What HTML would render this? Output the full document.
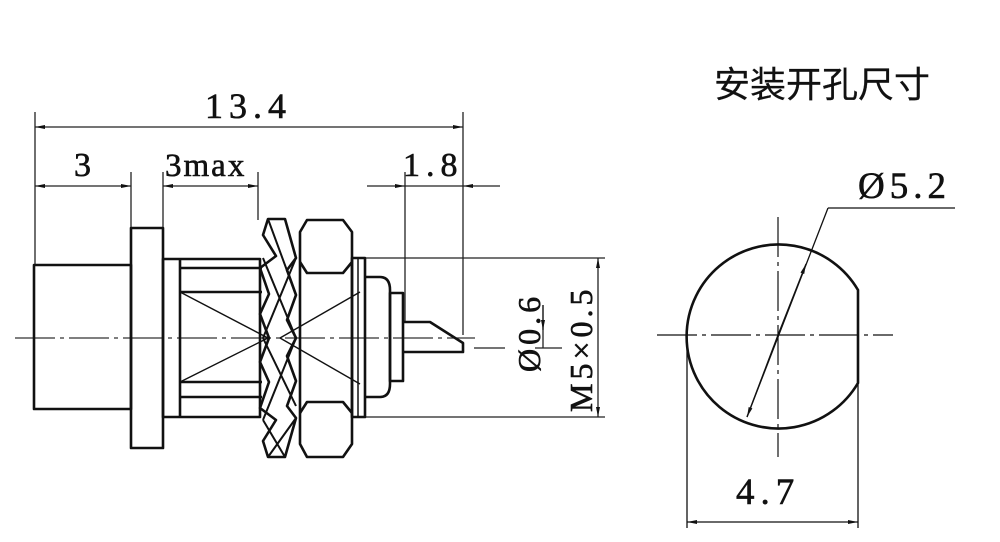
<!DOCTYPE html>
<html><head><meta charset="utf-8"><style>
html,body{margin:0;padding:0;background:#fff;}
svg{display:block;}
text{font-family:"Liberation Serif","Noto Serif CJK SC",serif;fill:#111;stroke:#111;stroke-width:0.6;}
</style></head><body>
<svg width="1000" height="542" viewBox="0 0 1000 542" xmlns="http://www.w3.org/2000/svg">
<defs>
<marker id="a" viewBox="0 0 10 6" refX="10" refY="3" markerWidth="14" markerHeight="6" orient="auto-start-reverse" markerUnits="userSpaceOnUse"><path d="M0,1 L10,3 L0,5z" fill="#111"/></marker>
</defs>
<text x="714" y="97" font-size="36" style="font-family:'Liberation Sans','Noto Sans CJK SC',sans-serif;stroke-width:0.2">安装开孔尺寸</text>

<g stroke="#222" stroke-width="1.3" fill="none">
<line x1="35" y1="112" x2="35" y2="265"/>
<line x1="463" y1="112" x2="463" y2="335"/>
<line x1="35" y1="127" x2="463" y2="127" marker-start="url(#a)" marker-end="url(#a)"/>
<line x1="131" y1="172" x2="131" y2="228"/>
<line x1="163" y1="172" x2="163" y2="259"/>
<line x1="258" y1="172" x2="258" y2="220"/>
<line x1="405" y1="172" x2="405" y2="322"/>
<line x1="35" y1="186" x2="131" y2="186" marker-start="url(#a)" marker-end="url(#a)"/>
<line x1="163" y1="186" x2="258" y2="186" marker-start="url(#a)" marker-end="url(#a)"/>
<line x1="367" y1="186" x2="405" y2="186" marker-end="url(#a)"/>
<line x1="500" y1="186" x2="463" y2="186" marker-end="url(#a)"/>
<line x1="405" y1="186" x2="463" y2="186"/>
<line x1="360" y1="258" x2="605" y2="258"/>
<line x1="360" y1="417" x2="605" y2="417"/>
<line x1="598" y1="258" x2="598" y2="417" marker-start="url(#a)" marker-end="url(#a)"/>
<line x1="543" y1="305" x2="543" y2="348"/>
<line x1="543" y1="305" x2="543" y2="330" marker-end="url(#a)"/>
<line x1="474" y1="348" x2="505" y2="348"/>
<line x1="535" y1="348" x2="562" y2="348"/>
</g>
<text x="205" y="118" font-size="36" letter-spacing="6">13.4</text>
<text x="74" y="176" font-size="34">3</text>
<text x="165" y="176" font-size="33" letter-spacing="2">3max</text>
<text x="403" y="176" font-size="34" letter-spacing="6">1.8</text>
<text transform="translate(540,372) rotate(-90)" font-size="32" letter-spacing="4">Ø0.6</text>
<text transform="translate(592,412) rotate(-90)" font-size="32" letter-spacing="4">M5×0.5</text>

<line x1="15" y1="338" x2="475" y2="338" stroke="#333" stroke-width="1.2" stroke-dasharray="40,5,4,5"/>

<g stroke="#111" stroke-width="2.6" fill="none" stroke-linejoin="round">
<rect x="34" y="265" width="97" height="144"/>
<rect x="131" y="228" width="32" height="220"/>
<rect x="163" y="259" width="97" height="158"/>
<line x1="180" y1="259" x2="180" y2="417"/>
<line x1="180" y1="268" x2="262" y2="268"/>
<line x1="180" y1="292" x2="262" y2="292"/>
<line x1="180" y1="382" x2="262" y2="382"/>
<line x1="180" y1="397" x2="262" y2="397"/>
<path d="M268,219 L285,219 L296,258 L287,270 L296,295 L287,320 L296,338 L287,356 L296,381 L287,406 L296,418 L285,457 L268,457 L263,441 L276,420 L260,408 L269,382 L260,362 L269,338 L260,314 L269,294 L260,268 L276,256 L263,235 Z"/>
<path d="M268,219 L296,295 M263,258 L296,338 M263,338 L296,406 M263,420 L285,457 M296,258 L263,338 M296,338 L263,420 M296,418 L268,457" stroke-width="2"/>
<path d="M307,220 L343,220 L352,232 L352,444 L343,457 L307,457 L300,444 L300,232 Z"/>
<path d="M300,262 L307,273 L343,273 L352,262 M300,413 L307,402 L343,402 L352,413"/>
<rect x="352" y="258" width="13" height="159"/>
<line x1="358" y1="258" x2="358" y2="417" stroke-width="1.5"/>
<path d="M365,277 L380,277 Q390,277 390,290 L390,384 Q390,397 380,397 L365,397"/>
<rect x="390" y="293" width="13" height="88"/>
<path d="M403,322 L430,322 L463,343 L463,352 L403,352"/>
</g>
<g stroke="#111" stroke-width="1.4">
<line x1="180" y1="292" x2="268" y2="338"/>
<line x1="180" y1="382" x2="268" y2="338"/>
<line x1="360" y1="292" x2="280" y2="338"/>
<line x1="360" y1="384" x2="280" y2="338"/>
</g>

<g stroke="#111" fill="none">
<path d="M858,290 A92,92 0 1 0 858,383 Z" stroke-width="2.6"/>
<line x1="657" y1="335" x2="893" y2="335" stroke-width="1.2" stroke-dasharray="40,5,4,5"/>
<line x1="778" y1="217" x2="778" y2="457" stroke-width="1.2" stroke-dasharray="40,5,4,5"/>
<line x1="747" y1="417" x2="828" y2="208" stroke-width="1.3"/>
<line x1="778" y1="335" x2="747" y2="417" stroke-width="1.3" marker-end="url(#a)"/>
<line x1="778" y1="335" x2="806" y2="264" stroke-width="1.3" marker-end="url(#a)"/>
<line x1="828" y1="208" x2="955" y2="208" stroke-width="1.3"/>
<line x1="687" y1="340" x2="687" y2="528" stroke-width="1.3"/>
<line x1="858" y1="383" x2="858" y2="528" stroke-width="1.3"/>
<line x1="687" y1="522" x2="858" y2="522" stroke-width="1.3" marker-start="url(#a)" marker-end="url(#a)"/>
</g>
<text x="858" y="198" font-size="37" letter-spacing="5">Ø5.2</text>
<text x="736" y="504" font-size="37" letter-spacing="6">4.7</text>
</svg>
</body></html>
